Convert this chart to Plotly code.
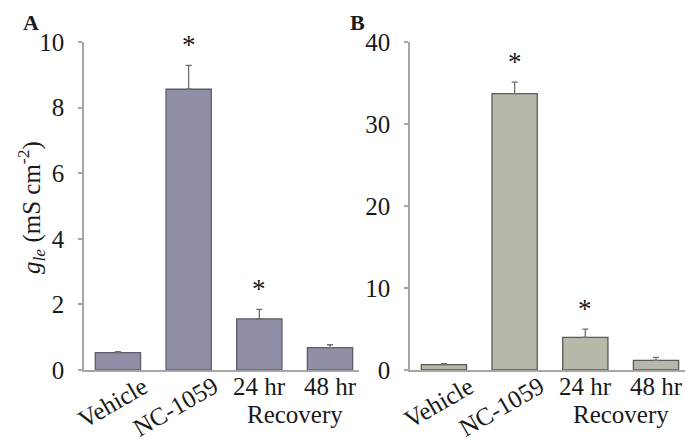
import plotly.graph_objects as go

# Epithelial conductance by treatment group
categories = ["Vehicle", "NC-1059", "24 hr", "48 hr"]
recovery_label = "Recovery"

gte_a = [0.53, 8.56, 1.56, 0.68]
sem_a = [0.03, 0.73, 0.29, 0.09]
sig_a = [False, True, True, False]

gte_b = [0.65, 33.7, 3.98, 1.18]
sem_b = [0.12, 1.4, 1.0, 0.37]
sig_b = [False, True, True, False]

ticks_a = [0, 2, 4, 6, 8, 10]
ticks_b = [0, 10, 20, 30, 40]

W, H = 685, 440
SERIF = "Liberation Serif"
INK = "#1a1a1a"

fig = go.Figure()

idx = list(range(len(categories)))

panels = [
    dict(vals=gte_a, errs=sem_a, sig=sig_a, ticks=ticks_a, ymax=10,
         fill="#8f90a8", line="#5c5c6a", xa="x", ya="y", dom=(84, 359), letter="A"),
    dict(vals=gte_b, errs=sem_b, sig=sig_b, ticks=ticks_b, ymax=40,
         fill="#b7b7aa", line="#5a5a52", xa="x2", ya="y2", dom=(410, 685), letter="B"),
]

for p in panels:
    fig.add_trace(go.Bar(
        x=idx, y=p["vals"], xaxis=p["xa"], yaxis=p["ya"],
        width=0.64,
        marker=dict(color=p["fill"], line=dict(color=p["line"], width=1.3)),
        error_y=dict(type="data", array=p["errs"], arrayminus=[0] * len(idx),
                     symmetric=False, color="#6e6e6e", thickness=1.3, width=3),
        showlegend=False, hoverinfo="skip",
    ))

y_dom = [(H - 370) / H, (H - 42) / H]

layout = dict(
    template="none",
    width=W, height=H,
    margin=dict(l=0, r=0, t=0, b=0, pad=0, autoexpand=False),
    paper_bgcolor="white", plot_bgcolor="white",
    font=dict(family=SERIF, color=INK),
)

annotations = []
for k, p in enumerate(panels):
    suffix = "" if k == 0 else "2"
    layout["xaxis" + suffix] = dict(
        domain=[p["dom"][0] / W, p["dom"][1] / W],
        range=[-0.48, 3.41], tickvals=[], showticklabels=False,
        showgrid=False, zeroline=False, automargin=False,
        showline=True, linecolor="#a6a6a6", linewidth=1.5, fixedrange=True,
        anchor="y" + suffix,
    )
    layout["yaxis" + suffix] = dict(
        domain=y_dom, range=[0, p["ymax"]], tickvals=p["ticks"],
        ticks="outside", ticklen=4, tickcolor="#a6a6a6", tickwidth=1.5,
        showgrid=False, zeroline=False, showline=True, linecolor="#a6a6a6",
        linewidth=1.5, tickfont=dict(family=SERIF, size=25, color=INK),
        ticklabelstandoff=9, fixedrange=True, automargin=False,
        anchor="x" + suffix,
    )

    xr, yr = p["xa"], p["ya"]
    # category labels: first two tilted, time points upright
    for i, name in enumerate(categories):
        if i < 2:
            annotations.append(dict(
                x=i, y=0, xref=xr, yref=yr, text=name, showarrow=False,
                textangle=-30, xanchor="right", yanchor="top",
                xshift=37, yshift=1, font=dict(family=SERIF, size=25, color=INK),
            ))
        else:
            annotations.append(dict(
                x=i, y=0, xref=xr, yref=yr, text=name, showarrow=False,
                xanchor="center", yanchor="middle", yshift=-16,
                font=dict(family=SERIF, size=25, color=INK),
            ))
    annotations.append(dict(
        x=2.5, y=0, xref=xr, yref=yr, text=recovery_label, showarrow=False,
        xanchor="center", yanchor="middle", yshift=-44,
        font=dict(family=SERIF, size=25, color=INK),
    ))
    # significance markers above error bars
    for i, (v, e, s) in enumerate(zip(p["vals"], p["errs"], p["sig"])):
        if s:
            annotations.append(dict(
                x=i, y=v + e, xref=xr, yref=yr, text="*", showarrow=False,
                xanchor="center", yanchor="middle", yshift=20,
                font=dict(family=SERIF, size=27, color=INK),
            ))
    # panel letter
    annotations.append(dict(
        x=(30.5 if k == 0 else 357.5) / W, y=(H - 22) / H, xref="paper", yref="paper",
        text="<b>%s</b>" % p["letter"], showarrow=False,
        xanchor="center", yanchor="middle",
        font=dict(family=SERIF, size=22, color=INK),
    ))

# y-axis title
annotations.append(dict(
    x=31 / W, y=(H - 208) / H, xref="paper", yref="paper",
    text="<i>g</i><sub><i>le</i></sub> (mS cm<sup>-2</sup>)", showarrow=False,
    textangle=-90, xanchor="center", yanchor="middle",
    font=dict(family=SERIF, size=25, color=INK),
))

layout["annotations"] = annotations
fig.update_layout(**layout)

fig.write_html("out.html")
